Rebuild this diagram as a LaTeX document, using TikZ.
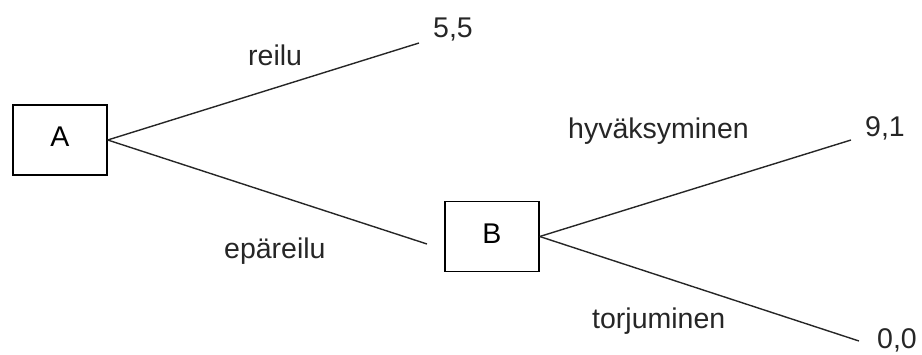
\documentclass[tikz,border=0pt]{standalone}
\usepackage{fontspec}
\setmainfont{Liberation Sans}
\newcommand{\boxtext}[1]{\raisebox{3pt}[\height][\depth]{#1}}
\begin{document}
\begin{tikzpicture}[x=1pt,y=-1pt,
  decision/.style={draw=black, line width=1.4pt, minimum width=94pt, minimum height=70pt, inner sep=0pt, font=\fontsize{28.5}{34}\selectfont},
  edge/.style={draw=black!85, line width=1.4pt},
  lbl/.style={anchor=base west, inner sep=0pt, text=black!85, font=\fontsize{28.5}{34}\selectfont}]
  \useasboundingbox (0,0) rectangle (922,354);

  % decision nodes
  \node[decision] (A) at (60,140) {\boxtext{A}};
  \node[decision] (B) at (492,236.5) {\boxtext{B}};

  % free ends of the branches
  \coordinate (fair) at (419,43);
  \coordinate (unfair) at (427,244);
  \coordinate (accept) at (851,140);
  \coordinate (reject) at (859,341);

  % branches
  \draw[edge] (A.east) -- (fair);
  \draw[edge] (A.east) -- (unfair);
  \draw[edge] (B.east) -- (accept);
  \draw[edge] (B.east) -- (reject);

  % branch labels
  \node[lbl] (lfair) at (248,65) {reilu};
  \node[lbl] (lunfair) at (224,258) {epäreilu};
  \node[lbl] (laccept) at (568,138) {hyväksyminen};
  \node[lbl] (lreject) at (592,328) {torjuminen};

  % payoffs
  \node[lbl] (p55) at (433,37) {5,5};
  \node[lbl] (p91) at (865,136) {9,1};
  \node[lbl] (p00) at (877,348) {0,0};
\end{tikzpicture}
\end{document}
